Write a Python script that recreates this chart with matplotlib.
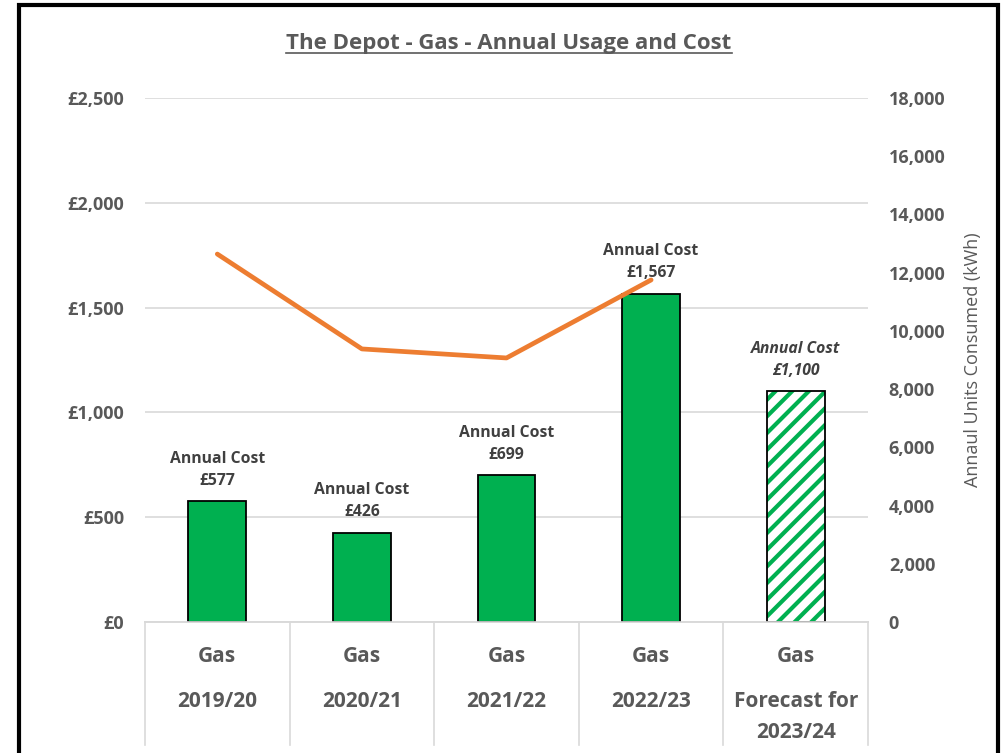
import matplotlib.pyplot as plt
import matplotlib.transforms as mtransforms
from matplotlib.lines import Line2D
from matplotlib.patches import Rectangle
from matplotlib.ticker import FuncFormatter, MultipleLocator

plt.rcParams['font.family'] = ['Open Sans', 'DejaVu Sans']
plt.rcParams['font.weight'] = 'bold'
plt.rcParams['hatch.linewidth'] = 3.0

# data
years = ['2019/20', '2020/21', '2021/22', '2022/23', 'Forecast for\n2023/24']
fuel = ['Gas', 'Gas', 'Gas', 'Gas', 'Gas']
annual_cost = [577, 426, 699, 1567, 1100]
usage_kwh = [12640, 9380, 9070, 11750]

green = '#00B050'
orange = '#ED7D31'
grey = '#595959'
dark = '#404040'

fig = plt.figure(figsize=(10.04, 7.53), dpi=100)
ax = fig.add_axes([145 / 1004, 131 / 753, 723 / 1004, 524 / 753])
ax2 = ax.twinx()

x = list(range(len(years)))

# actual years: solid bars, forecast: hatched
ax.bar(x[:4], annual_cost[:4], width=0.4, color=green, edgecolor='black', linewidth=1.3, zorder=3)
ax.bar(x[4], annual_cost[4], width=0.4, color='white', edgecolor=green, hatch='//', linewidth=0, zorder=3)
ax.bar(x[4], annual_cost[4], width=0.4, fill=False, edgecolor='black', linewidth=1.3, zorder=4)

for i, v in enumerate(annual_cost):
    style = 'italic' if i == 4 else 'normal'
    ax.annotate('Annual Cost\n£{:,}'.format(v), (i, v), xytext=(0, 9), textcoords='offset points',
                ha='center', va='bottom', fontsize=11.3, fontweight='bold', fontstyle=style,
                color=dark, linespacing=1.5, zorder=5)

ax2.plot(x[:4], usage_kwh, color=orange, linewidth=3.4, solid_capstyle='round', zorder=2)

ax.set_xlim(-0.5, 4.5)
ax.set_ylim(0, 2500)
ax2.set_ylim(0, 18000)
ax.yaxis.set_major_locator(MultipleLocator(500))
ax2.yaxis.set_major_locator(MultipleLocator(2000))
ax.yaxis.set_major_formatter(FuncFormatter(lambda v, p: '£{:,.0f}'.format(v)))
ax2.yaxis.set_major_formatter(FuncFormatter(lambda v, p: '{:,.0f}'.format(v)))

ax.grid(axis='y', color='#d9d9d9', linewidth=1.2, zorder=0)
ax.set_axisbelow(True)
for a in (ax, ax2):
    for s in ('top', 'left', 'right'):
        a.spines[s].set_visible(False)
    a.spines['bottom'].set_color('#d9d9d9')
    a.spines['bottom'].set_linewidth(1.2)
    a.tick_params(length=0)
ax.tick_params(axis='y', labelsize=13, labelcolor=grey, pad=15)
ax2.tick_params(axis='y', labelsize=13, labelcolor=grey, pad=15)
ax.set_xticks([])

ax2.set_ylabel('Annaul Units Consumed (kWh)', fontsize=13, color=grey, fontweight='normal')
ax2.yaxis.set_label_coords(1.133, 0.5)

# category table under the plot
trans = mtransforms.blended_transform_factory(ax.transData, ax.transAxes)
for b in [-0.5, 0.5, 1.5, 2.5, 3.5, 4.5]:
    ax.add_line(Line2D([b, b], [0, -123 / 524], transform=trans, color='#d9d9d9',
                       linewidth=1.2, clip_on=False))
for i in x:
    ax.text(i, -34 / 524, fuel[i], transform=trans, ha='center', va='center',
            fontsize=15, fontweight='bold', color=grey)
    ax.text(i, -69 / 524, years[i], transform=trans, ha='center', va='top',
            fontsize=15, fontweight='bold', color=grey, linespacing=1.6)

# title with underline
title = fig.text(509 / 1004, 1 - 43 / 753, 'The Depot - Gas - Annual Usage and Cost',
                 ha='center', va='center', fontsize=16, fontweight='bold', color=grey)
fig.canvas.draw()
bb = title.get_window_extent().transformed(fig.transFigure.inverted())
uy = bb.y0 + 1 / 753
fig.add_artist(Line2D([bb.x0, bb.x1], [uy, uy], transform=fig.transFigure, color=grey, linewidth=1.2))

# chart border
fig.add_artist(Rectangle((19 / 1004, -0.05), 979 / 1004, 1.05 - 5 / 753, transform=fig.transFigure,
                         fill=False, edgecolor='black', linewidth=3))

fig.savefig('out.png', dpi=100)
